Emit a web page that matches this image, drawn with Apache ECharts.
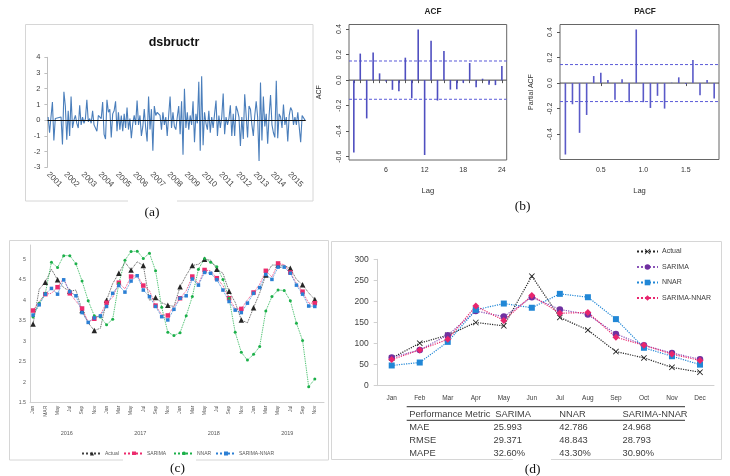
<!DOCTYPE html>
<html><head><meta charset="utf-8">
<script src="https://cdn.jsdelivr.net/npm/echarts@6/dist/echarts.min.js"></script>
<style>html,body{margin:0;padding:0;background:#fff}#c{width:730px;height:476px}</style>
</head><body><div id="c"></div>
<script>
// ---------- (a) dsbructr ----------
const aYears = ['2001','2002','2003','2004','2005','2006','2007','2008','2009','2010','2011','2012','2013','2014','2015'];
const dsbructr = [
 0.2,-0.8,0.2,1.15,-1.3,0.1,0.2,0.15,0.25,0.2,-1.55,1.8,
 0.9,-1.25,0.6,-1.0,1.5,-0.5,0.0,0.3,-0.2,-0.5,0.95,-0.3,
 0.2,-0.2,0.1,1.3,-0.1,0.1,-0.2,0.6,-0.3,-0.4,-0.7,0.3,
 0.2,0.1,1.15,-0.9,-1.2,1.3,0.5,0.7,-1.1,0.4,0.6,1.2,
 -0.7,0.5,-0.6,0.3,-0.7,0.4,-0.5,0.8,-0.6,0.1,-1.15,-0.2,
 0.3,-0.3,1.25,-0.3,0.3,-1.0,-0.4,0.7,-0.5,-1.35,1.5,-0.6,
 0.7,-1.95,0.9,0.3,0.5,0.4,0.3,-0.6,0.5,-0.3,0.2,-1.0,
 0.3,1.5,-0.5,0.5,-0.4,-0.6,0.2,0.9,-0.9,1.2,-2.2,2.0,
 -0.5,0.5,-0.6,0.3,-0.3,1.2,-1.4,0.4,-0.2,2.45,-1.95,2.8,
 -1.6,0.5,-0.2,-0.6,0.6,-0.8,0.2,-0.5,0.4,1.25,-1.0,0.3,
 -0.5,0.2,1.7,-0.9,0.2,-0.3,0.1,0.95,-1.0,0.4,-1.0,0.9,
 0.6,0.2,-1.65,0.2,-1.2,1.65,0.3,-1.1,0.9,0.7,-0.3,-1.0,
 0.3,1.2,0.2,-2.6,2.4,-1.3,1.5,-0.4,0.4,-1.5,0.3,1.6,
 -0.3,-0.8,-1.1,2.5,-1.15,0.4,0.2,-0.5,1.0,-0.3,0.2,-1.35,
 0.3,0.8,0.6,-0.3,0.2,-0.3,0.5,0.6,-1.4,0.3,0.35,0.0
];
const aCategories = [];
aYears.forEach(y => { for (let m = 1; m <= 12; m++) aCategories.push(y + '-' + m); });

// ---------- (b) ACF / PACF ----------
const acfLags = [1,2,3,4,5,6,7,8,9,10,11,12,13,14,15,16,17,18,19,20,21,22,23,24];
const acfValues = [-0.568,0.208,-0.30,0.216,0.053,-0.01,-0.076,-0.087,0.176,-0.142,0.397,-0.587,
                   0.308,-0.16,0.229,-0.074,-0.071,-0.021,0.134,-0.055,0.011,-0.037,-0.039,0.11];
const acfCI = 0.15;
const pacfLagMonths = [1,2,3,4,5,6,7,8,9,10,11,12,13,14,15,16,17,18,19,20,21,22];
const pacfValues = [-0.56,-0.166,-0.39,-0.25,0.055,0.08,0.024,-0.13,0.03,-0.15,0.42,-0.15,
                    -0.195,-0.10,-0.20,0.003,0.045,-0.008,0.18,-0.095,0.024,-0.12];
const pacfCI = 0.145;

// ---------- (c) ----------
const cYears = ['2016','2017','2018','2019'];
const cMonthNames2016 = ['Jan','Feb','MAR','Apr','May','Jun','Jul','Aug','Sep','Oct','Nov','Dec'];
const cMonthNames = ['Jan','Feb','Mar','Apr','May','Jun','Jul','Aug','Sep','Oct','Nov','Dec'];
const cActual = [3.42,4.27,4.44,4.76,4.50,4.31,4.22,4.25,3.75,3.45,3.26,3.32,
                 4.00,4.41,4.66,4.93,4.74,4.94,4.85,4.00,4.07,3.94,3.88,3.85,
                 4.33,4.61,4.85,4.88,5.00,4.98,4.76,4.66,4.22,3.95,3.52,3.45,
                 3.82,4.18,4.62,4.86,4.86,4.85,4.78,4.51,4.38,4.18,4.02,null];
const cSarima = [3.75,3.97,4.15,4.17,4.32,4.54,4.17,3.98,3.80,3.47,3.55,3.65,
                 3.94,4.07,4.43,4.28,4.58,4.61,4.36,4.24,3.87,3.65,3.63,3.85,
                 4.05,4.23,4.58,4.40,4.74,4.72,4.54,4.36,4.05,3.80,3.79,4.01,
                 4.19,4.39,4.72,4.57,4.90,4.87,4.68,4.41,4.21,3.93,3.93,null];
const cNnar = [3.59,3.93,4.17,4.93,4.80,5.09,5.09,4.89,4.47,3.99,3.62,3.59,
               3.40,3.54,4.41,4.98,5.19,5.20,5.02,5.15,4.72,3.83,3.22,3.14,
               3.21,3.62,4.09,4.76,5.02,4.93,4.82,4.51,4.05,3.22,2.73,2.54,
               2.68,2.87,3.74,4.09,4.25,4.24,3.99,3.44,3.02,1.89,2.08,null];
const cSarimaNnar = [3.64,3.89,4.15,4.29,4.15,4.50,4.21,4.11,3.70,3.46,3.57,3.62,
                     3.85,4.17,4.36,4.20,4.47,4.60,4.25,4.09,3.85,3.60,3.52,3.78,
                     4.05,4.11,4.52,4.37,4.68,4.66,4.50,4.25,3.97,3.76,3.70,3.93,
                     4.17,4.31,4.63,4.51,4.81,4.81,4.66,4.37,4.15,3.86,3.85,null];
const cCategories = [];
cYears.forEach((y, yi) => (yi === 0 ? cMonthNames2016 : cMonthNames).forEach(m => cCategories.push(m)));

// ---------- (d) ----------
const dMonths = ['Jan','Feb','Mar','Apr','May','Jun','Jul','Aug','Sep','Oct','Nov','Dec'];
const dActual = [65.6,101,120,150,142,260,162,132,81,66,43.5,32];
const dSarima = [67,85,120,177,164,210,181,169,123,96,77.5,63];
const dNnar = [48,55,104,180,195,185,218,210,158,90,70,50];
const dSarimaNnar = [62,85,110,189,155,214,172,174,115,96,75,60];
const tableHeader = ['Performance Metric','SARIMA','NNAR','SARIMA-NNAR'];
const tableMetrics = ['MAE','RMSE','MAPE'];
const tableSarima = ['25.993','29.371','32.60%'];
const tableNnar = ['42.786','48.843','43.30%'];
const tableSarimaNnar = ['24.968','28.793','30.90%'];

// ---------- chart ----------
const chart = echarts.init(document.getElementById('c'), null, {renderer: 'canvas'});
const RF = 'Liberation Sans';
const rAxisLabel = {fontFamily: RF, fontSize: 7, color: '#333'};
const xMark = 'path://M0,1 L1,0 L5,4 L9,0 L10,1 L6,5 L10,9 L9,10 L5,6 L1,10 L0,9 L4,5 Z';

function stemSeries(xi, yi, data, color) {
  return {
    type: 'custom', xAxisIndex: xi, yAxisIndex: yi, silent: true,
    data: data,
    encode: {x: 0, y: 1},
    renderItem: (params, api) => {
      const p0 = api.coord([api.value(0), 0]);
      const p1 = api.coord([api.value(0), api.value(1)]);
      return {type: 'line', shape: {x1: p0[0], y1: p0[1], x2: p1[0], y2: p1[1]},
              style: {stroke: color, lineWidth: 1.6}};
    }
  };
}
function hLine(xi, yi, x0, x1, y, color, type) {
  return {type: 'line', xAxisIndex: xi, yAxisIndex: yi, silent: true, symbol: 'none',
          data: [[x0, y], [x1, y]], lineStyle: {color: color, width: 1, type: type}, z: 1};
}

const acfMin = 0.25, acfMax = 24.75;
const pacfMin = 0.02, pacfMax = 1.89;
const pacfX = pacfLagMonths.map(m => m / 12);

const option = {
  animation: false,
  backgroundColor: '#fff',
  title: [
    {text: 'dsbructr', left: 169, top: 31, textAlign: 'center',
     textStyle: {fontFamily: RF, fontSize: 12.5, fontWeight: 'bold', color: '#111'}},
    {text: 'ACF', left: 428, top: 3, textAlign: 'center',
     textStyle: {fontFamily: RF, fontSize: 8.2, fontWeight: 'bold', color: '#222'}},
    {text: 'PACF', left: 640, top: 3, textAlign: 'center',
     textStyle: {fontFamily: RF, fontSize: 8.2, fontWeight: 'bold', color: '#222'}}
  ],
  grid: [
    {left: 47.4, top: 57.3, width: 258.3, height: 110},
    {left: 349, top: 24.5, width: 157.7, height: 135.5, show: true, borderColor: '#666', borderWidth: 1},
    {left: 560, top: 24.5, width: 159, height: 135, show: true, borderColor: '#666', borderWidth: 1},
    {left: 30, top: 245, width: 294, height: 157.7},
    {left: 377.7, top: 259.3, width: 336.3, height: 126.4}
  ],
  xAxis: [
    {gridIndex: 0, type: 'category', data: aCategories, boundaryGap: true,
     axisLine: {lineStyle: {color: '#bfbfbf'}},
     axisTick: {interval: (i) => i % 10 === 0, length: 3, lineStyle: {color: '#bfbfbf'}},
     axisLabel: {interval: (i) => i % 12 === 0, formatter: (v) => v.split('-')[0], rotate: -45,
                 margin: 6, fontFamily: RF, fontSize: 8, color: '#404040'}},
    {gridIndex: 1, type: 'value', min: acfMin, max: acfMax,
     splitLine: {show: false}, axisLine: {show: false},
     axisTick: {customValues: acfLags, length: 3, lineStyle: {color: '#555'}},
     axisLabel: Object.assign({customValues: [6, 12, 18, 24], margin: 7}, rAxisLabel),
     name: 'Lag', nameLocation: 'middle', nameGap: 27,
     nameTextStyle: {fontFamily: RF, fontSize: 7.6, color: '#333'}},
    {gridIndex: 2, type: 'value', min: pacfMin, max: pacfMax,
     splitLine: {show: false}, axisLine: {show: false},
     axisTick: {customValues: [0.5, 1.0, 1.5], length: 3, lineStyle: {color: '#555'}},
     axisLabel: Object.assign({customValues: [0.5, 1.0, 1.5], margin: 7, formatter: (v) => v.toFixed(1)}, rAxisLabel),
     name: 'Lag', nameLocation: 'middle', nameGap: 27,
     nameTextStyle: {fontFamily: RF, fontSize: 7.6, color: '#333'}},
    {gridIndex: 3, type: 'category', data: cCategories, boundaryGap: true,
     axisLine: {lineStyle: {color: '#d0d0d0'}},
     axisTick: {interval: 0, length: 24, lineStyle: {color: '#d9d9d9'}},
     axisLabel: {interval: 1, rotate: 90, margin: 3, fontFamily: RF, fontSize: 5, color: '#595959'}},
    {gridIndex: 3, type: 'category', data: cYears, boundaryGap: true, position: 'bottom',
     axisLine: {show: false},
     axisTick: {interval: 0, length: 38, lineStyle: {color: '#d9d9d9'}},
     axisLabel: {interval: 0, margin: 28, fontFamily: RF, fontSize: 5.5, color: '#595959'}},
    {gridIndex: 4, type: 'category', data: dMonths, boundaryGap: true,
     axisLine: {lineStyle: {color: '#d0d0d0'}},
     axisTick: {interval: 0, length: 4, lineStyle: {color: '#d0d0d0'}},
     axisLabel: {interval: 0, margin: 9, fontFamily: RF, fontSize: 6.5, color: '#404040'}}
  ],
  yAxis: [
    {gridIndex: 0, type: 'value', min: -3, max: 4, interval: 1, splitLine: {show: false},
     axisLine: {show: true, lineStyle: {color: '#bfbfbf'}},
     axisTick: {show: true, length: 3, lineStyle: {color: '#bfbfbf'}},
     axisLabel: {margin: 7, fontFamily: RF, fontSize: 7.5, color: '#404040'}},
    {gridIndex: 1, type: 'value', min: -0.626, max: 0.436, splitLine: {show: false}, axisLine: {show: false},
     axisTick: {customValues: [-0.6, -0.4, -0.2, 0, 0.2, 0.4], length: 3, lineStyle: {color: '#555'}},
     axisLabel: Object.assign({customValues: [-0.6, -0.4, -0.2, 0, 0.2, 0.4], rotate: 90, margin: 6,
                formatter: (v) => v.toFixed(1)}, rAxisLabel),
     name: 'ACF', nameLocation: 'middle', nameGap: 26, nameRotate: 90,
     nameTextStyle: {fontFamily: RF, fontSize: 7, color: '#333'}},
    {gridIndex: 2, type: 'value', min: -0.599, max: 0.459, splitLine: {show: false}, axisLine: {show: false},
     axisTick: {customValues: [-0.4, -0.2, 0, 0.2, 0.4], length: 3, lineStyle: {color: '#555'}},
     axisLabel: Object.assign({customValues: [-0.4, -0.2, 0, 0.2, 0.4], rotate: 90, margin: 6,
                formatter: (v) => v.toFixed(1)}, rAxisLabel),
     name: 'Partial ACF', nameLocation: 'middle', nameGap: 25, nameRotate: 90,
     nameTextStyle: {fontFamily: RF, fontSize: 7, color: '#333'}},
    {gridIndex: 3, type: 'value', min: 1.5, max: 5.35, interval: 0.5, splitLine: {show: false},
     axisLine: {show: true, lineStyle: {color: '#d0d0d0'}}, axisTick: {show: false},
     axisLabel: {showMaxLabel: false, margin: 4, fontFamily: RF, fontSize: 5.3, color: '#595959'}},
    {gridIndex: 4, type: 'value', min: 0, max: 300, interval: 50, splitLine: {show: false},
     axisLine: {show: true, lineStyle: {color: '#d0d0d0'}},
     axisTick: {show: true, length: 4, lineStyle: {color: '#d0d0d0'}},
     axisLabel: {margin: 9, fontFamily: RF, fontSize: 8.5, color: '#404040'}}
  ],
  legend: [
    {data: ['c:Actual'], left: 76, top: 446, itemWidth: 20, itemHeight: 5, itemGap: 0,
     formatter: (n) => n.slice(2), textStyle: {fontFamily: RF, fontSize: 5, color: '#595959', padding: [0, 0, 0, -2]}},
    {data: ['c:SARIMA'], left: 118, top: 446, itemWidth: 20, itemHeight: 5,
     formatter: (n) => n.slice(2), textStyle: {fontFamily: RF, fontSize: 5, color: '#595959', padding: [0, 0, 0, -2]}},
    {data: ['c:NNAR'], left: 168, top: 446, itemWidth: 20, itemHeight: 5,
     formatter: (n) => n.slice(2), textStyle: {fontFamily: RF, fontSize: 5, color: '#595959', padding: [0, 0, 0, -2]}},
    {data: ['c:SARIMA-NNAR'], left: 210, top: 446, itemWidth: 20, itemHeight: 5,
     formatter: (n) => n.slice(2), textStyle: {fontFamily: RF, fontSize: 5, color: '#595959', padding: [0, 0, 0, -2]}},
    {data: ['d:Actual', 'd:SARIMA', 'd:NNAR', 'd:SARIMA-NNAR'], orient: 'vertical', left: 631, top: 243,
     itemWidth: 21, itemHeight: 7, itemGap: 8.5,
     formatter: (n) => n.slice(2), textStyle: {fontFamily: RF, fontSize: 7, color: '#404040', padding: [0, 0, 0, -1]}}
  ],
  series: [
    {name: 'dsbructr', type: 'line', xAxisIndex: 0, yAxisIndex: 0, data: dsbructr, symbol: 'none',
     lineStyle: {color: '#4a7ebb', width: 1.1}, silent: true,
     markLine: {silent: true, symbol: 'none', label: {show: false},
                lineStyle: {color: '#111', width: 1, type: 'solid'}, data: [{yAxis: 0}]}},
    hLine(1, 1, acfMin, acfMax, 0, '#444', 'solid'),
    hLine(1, 1, acfMin, acfMax, acfCI, '#5a5ad8', [3, 2]),
    hLine(1, 1, acfMin, acfMax, -acfCI, '#5a5ad8', [3, 2]),
    stemSeries(1, 1, acfLags.map((l, i) => [l, acfValues[i]]), '#4f4fc0'),
    hLine(2, 2, pacfMin, pacfMax, 0, '#444', 'solid'),
    hLine(2, 2, pacfMin, pacfMax, pacfCI, '#5a5ad8', [3, 2]),
    hLine(2, 2, pacfMin, pacfMax, -pacfCI, '#5a5ad8', [3, 2]),
    stemSeries(2, 2, pacfX.map((x, i) => [x, pacfValues[i]]), '#5a5ac8'),
    {name: 'c:Actual', type: 'line', xAxisIndex: 3, yAxisIndex: 3, data: cActual,
     symbol: 'triangle', symbolSize: 5.5, itemStyle: {color: '#262626'},
     lineStyle: {color: '#404040', width: 0.9, type: 'dotted'}},
    {name: 'c:SARIMA', type: 'line', xAxisIndex: 3, yAxisIndex: 3, data: cSarima,
     symbol: 'rect', symbolSize: 4.5, itemStyle: {color: '#ec2b6d'},
     lineStyle: {color: '#ec2b6d', width: 0.9, type: 'dotted'}},
    {name: 'c:NNAR', type: 'line', xAxisIndex: 3, yAxisIndex: 3, data: cNnar,
     symbol: 'circle', symbolSize: 3, itemStyle: {color: '#1cb04a'},
     lineStyle: {color: '#1cb04a', width: 0.9, type: 'dotted'}},
    {name: 'c:SARIMA-NNAR', type: 'line', xAxisIndex: 3, yAxisIndex: 3, data: cSarimaNnar,
     symbol: 'rect', symbolSize: 3.5, itemStyle: {color: '#2b7fd4'},
     lineStyle: {color: '#2b7fd4', width: 0.9, type: 'dotted'}},
    {name: 'd:Actual', type: 'line', xAxisIndex: 5, yAxisIndex: 4, data: dActual,
     symbol: xMark, symbolSize: 6, itemStyle: {color: '#262626'},
     lineStyle: {color: '#262626', width: 1.2, type: 'dotted'}},
    {name: 'd:SARIMA', type: 'line', xAxisIndex: 5, yAxisIndex: 4, data: dSarima,
     symbol: 'circle', symbolSize: 6.5, itemStyle: {color: '#7030a0'},
     lineStyle: {color: '#8a55b8', width: 1.2, type: 'dotted'}},
    {name: 'd:NNAR', type: 'line', xAxisIndex: 5, yAxisIndex: 4, data: dNnar,
     symbol: 'rect', symbolSize: 6, itemStyle: {color: '#2187d6'},
     lineStyle: {color: '#2187d6', width: 1.2, type: 'dotted'}},
    {name: 'd:SARIMA-NNAR', type: 'line', xAxisIndex: 5, yAxisIndex: 4, data: dSarimaNnar,
     symbol: 'diamond', symbolSize: 7, itemStyle: {color: '#e8266e'},
     lineStyle: {color: '#e8266e', width: 1.2, type: 'dotted'}}
  ]
};

// ---- graphics: panel frames, captions, table ----
const g = [];
function frame(x, y, w, h) {
  g.push({type: 'rect', shape: {x: x, y: y, width: w, height: h}, silent: true, z: -10,
          style: {fill: 'none', stroke: '#d6d6d6', lineWidth: 1}});
}
frame(25.5, 24.5, 287.5, 176.5);
frame(9.5, 240.5, 319, 219.5);
frame(331.5, 241.5, 390, 218);
function caption(text, cx, cy, gapX0, gapX1) {
  g.push({type: 'rect', shape: {x: gapX0, y: cy - 13, width: gapX1 - gapX0, height: 26}, silent: true, z: 50,
          style: {fill: '#fff'}});
  g.push({type: 'text', x: cx, y: cy, silent: true, z: 51,
          style: {text: text, fill: '#111', font: '13.5px "Liberation Serif"', align: 'center', verticalAlign: 'middle'}});
}
// table
const colX = [409.3, 493.5, 559.3, 622.5];
const rowY = [427.3, 440.7, 453.3];
const tFont = '9.3px "Liberation Sans"';
tableHeader.forEach((t, i) => g.push({type: 'text', x: i === 1 ? 495.3 : colX[i], y: 414.3, silent: true,
  style: {text: t, fill: '#404040', font: tFont, align: 'left', verticalAlign: 'middle'}}));
[tableMetrics, tableSarima, tableNnar, tableSarimaNnar].forEach((col, ci) => col.forEach((t, ri) =>
  g.push({type: 'text', x: colX[ci], y: rowY[ri], silent: true,
    style: {text: t, fill: '#404040', font: tFont, align: 'left', verticalAlign: 'middle'}})));
g.push({type: 'line', shape: {x1: 406.7, y1: 406.7, x2: 685, y2: 406.7}, silent: true, style: {stroke: '#595959', lineWidth: 1.2}});
g.push({type: 'line', shape: {x1: 406.7, y1: 420.3, x2: 685, y2: 420.3}, silent: true, style: {stroke: '#595959', lineWidth: 1.2}});
caption('(a)', 152, 212, 128, 177);
caption('(b)', 522.5, 206, 505, 540);
caption('(c)', 177.5, 468, 123, 196);
caption('(d)', 532.5, 469, 513, 551);
option.graphic = g;

chart.setOption(option);
</script></body></html>
